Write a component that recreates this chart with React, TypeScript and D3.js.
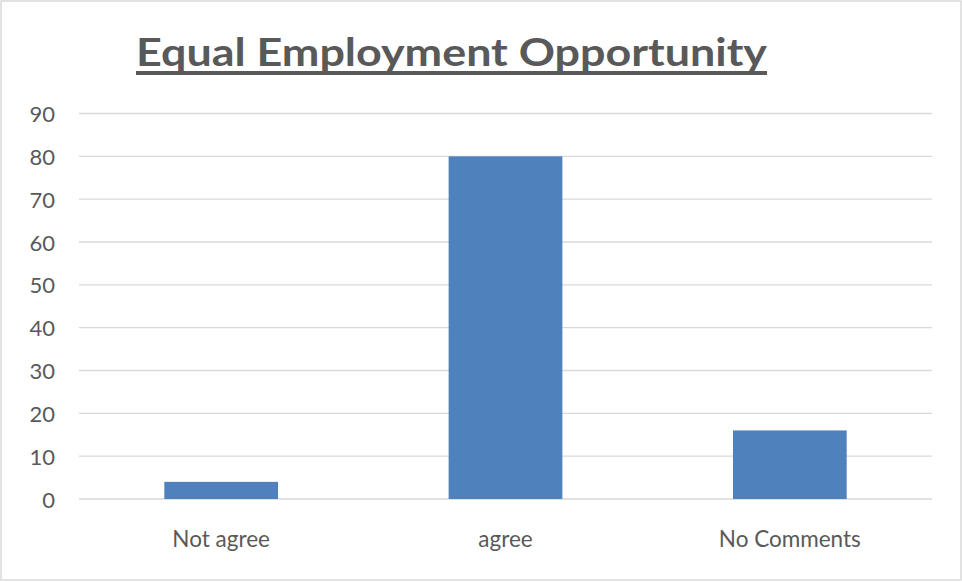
import React from "react";
import * as d3 from "d3";

const categories = ["Not agree", "agree", "No Comments"];
const values = [4, 80, 16];
const yTicks = [0, 10, 20, 30, 40, 50, 60, 70, 80, 90];
const title = "Equal Employment Opportunity";

export default function App() {
  const W = 962;
  const H = 582;
  const left = 79;
  const right = 932;
  const top = 113.5;
  const bottom = 499;

  const x = d3
    .scaleBand<string>()
    .domain(categories)
    .range([left, right])
    .paddingInner(0.6)
    .paddingOuter(0.3);
  const y = d3.scaleLinear().domain([0, 90]).range([bottom, top]);

  const font = "Lato, 'Open Sans', sans-serif";
  const textColor = "#595959";

  return (
    <svg
      width={W}
      height={H}
      style={{ position: "absolute", left: 0, top: 0, display: "block", background: "#fff" }}
    >
      <rect x={0} y={0} width={W} height={H} fill="#fff" />
      <rect x={1} y={1} width={960} height={579} fill="none" stroke="#d9d9d9" strokeWidth={1.5} />

      <text
        x={136}
        y={66}
        fontFamily={font}
        fontWeight={700}
        fontSize={39}
        fill={textColor}
        textLength={631}
        lengthAdjust="spacingAndGlyphs"
      >
        {title}
      </text>
      <rect x={136} y={71} width={631} height={4} fill={textColor} />

      {yTicks.map((t) => (
        <g key={t}>
          <line x1={left} x2={right} y1={y(t)} y2={y(t)} stroke="#d9d9d9" strokeWidth={1.3} />
          <text
            x={55}
            y={y(t)}
            textAnchor="end"
            dominantBaseline="central"
            fontFamily={font}
            fontSize={22}
            fill={textColor}
          >
            {t}
          </text>
        </g>
      ))}

      {categories.map((c, i) => (
        <g key={c}>
          <rect
            x={x(c)}
            y={y(values[i])}
            width={x.bandwidth()}
            height={y(0) - y(values[i])}
            fill="#4F81BD"
          />
          <text
            x={(x(c) as number) + x.bandwidth() / 2}
            y={547}
            textAnchor="middle"
            fontFamily={font}
            fontSize={22.5}
            fill={textColor}
          >
            {c}
          </text>
        </g>
      ))}
    </svg>
  );
}
